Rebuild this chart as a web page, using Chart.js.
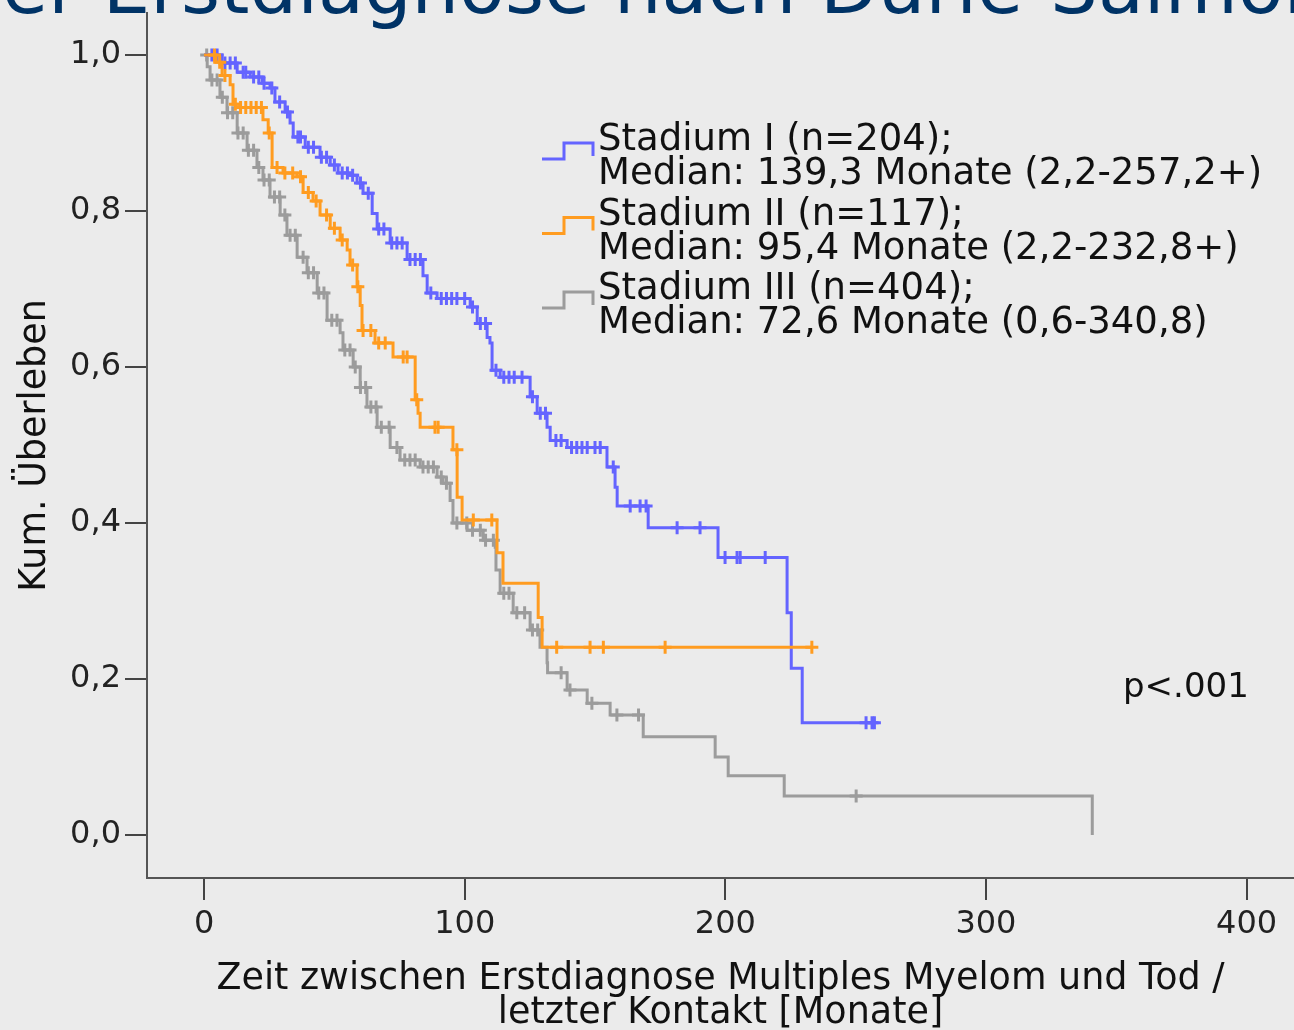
<!DOCTYPE html>
<html>
<head>
<meta charset="utf-8">
<script src="https://cdn.jsdelivr.net/npm/chart.js@4.4.1/dist/chart.umd.min.js"></script>
<style>
  html, body { margin: 0; padding: 0; background: #ebebeb; overflow: hidden; }
  canvas { display: block; }
</style>
</head>
<body>
<canvas id="km" width="1294" height="1030"></canvas>
<script>
// Kaplan-Meier steps: [months, cumulative survival]
const stadium1 = [
  [0, 1.0], [6.9, 0.990], [12.7, 0.978], [17.7, 0.972], [22.3, 0.964], [25.3, 0.958],
  [27.2, 0.940], [31.1, 0.927], [33.0, 0.913], [34.2, 0.895], [38.8, 0.882], [44.5, 0.869],
  [48.4, 0.859], [51.4, 0.849], [56.0, 0.846], [58.7, 0.836], [61.0, 0.823], [64.5, 0.797],
  [66.4, 0.777], [71.4, 0.759], [77.9, 0.738], [84.0, 0.717], [85.6, 0.695], [89.4, 0.688],
  [102.1, 0.677], [104.8, 0.656], [108.6, 0.638], [109.7, 0.631], [110.5, 0.596], [113.6, 0.587],
  [125.1, 0.562], [127.8, 0.541], [131.6, 0.523], [132.8, 0.506], [139.3, 0.497], [154.6, 0.472],
  [157.7, 0.446], [158.5, 0.422], [170.4, 0.394], [197.2, 0.356], [223.7, 0.285], [225.3, 0.214],
  [229.5, 0.144], [257.2, 0.144]
];
const stadium2 = [
  [0, 1.0], [4.6, 0.991], [6.9, 0.974], [10.0, 0.962], [11.1, 0.937], [13.8, 0.933],
  [22.6, 0.917], [24.6, 0.900], [26.1, 0.856], [30.3, 0.849], [35.7, 0.844], [38.0, 0.824],
  [41.8, 0.813], [44.5, 0.795], [48.4, 0.778], [52.2, 0.763], [54.9, 0.750], [56.0, 0.731],
  [58.7, 0.703], [59.9, 0.679], [60.6, 0.647], [65.6, 0.631], [72.5, 0.613], [81.0, 0.558],
  [82.1, 0.541], [82.9, 0.523], [95.5, 0.494], [97.1, 0.433], [99.0, 0.404], [112.4, 0.362],
  [114.7, 0.323], [128.2, 0.279], [129.7, 0.241], [233.2, 0.241]
];
const stadium3 = [
  [0, 1.0], [1.2, 0.985], [2.3, 0.968], [6.1, 0.946], [8.8, 0.926], [12.7, 0.900],
  [16.5, 0.878], [20.3, 0.856], [22.6, 0.840], [25.3, 0.818], [29.2, 0.795], [31.8, 0.769],
  [35.7, 0.741], [39.5, 0.721], [43.4, 0.695], [47.2, 0.660], [52.2, 0.644], [53.3, 0.622],
  [57.2, 0.600], [59.9, 0.574], [62.5, 0.549], [66.4, 0.523], [71.4, 0.497], [75.2, 0.481],
  [82.9, 0.472], [89.4, 0.459], [91.7, 0.451], [94.4, 0.429], [95.5, 0.400], [100.9, 0.391],
  [107.1, 0.378], [111.7, 0.369], [112.0, 0.340], [113.6, 0.310], [118.6, 0.285], [125.1, 0.263],
  [128.9, 0.241], [131.6, 0.221], [131.8, 0.208], [139.3, 0.186], [147.0, 0.169], [155.8, 0.154],
  [168.5, 0.126], [196.1, 0.100], [201.1, 0.076], [222.6, 0.050], [340.8, 0.0]
];

// censored cases (months), marked with + on their curve
const censor1 = [3, 5, 8, 10, 12, 15, 16, 19, 21, 23, 26, 29, 32, 36, 37, 40, 42, 45, 47, 50,
  53, 55, 57, 60, 63, 67, 69, 72, 74, 76, 79, 81, 83, 87, 91, 93, 95, 97, 100, 103, 106, 108,
  112, 115, 117, 119, 122, 126, 129, 131, 135, 137, 141, 143, 145, 147, 150, 152, 157,
  163.5, 167.3, 169.6, 181.5, 190.3, 199.9, 204.5, 205.7, 215.3, 254, 256.3, 257.2];
const censor2 = [4, 6, 8, 12, 14, 16, 18, 20, 22, 25, 28, 31, 34, 37, 40, 43, 47, 50, 53, 57,
  59, 61, 64, 67, 69.5, 76.4, 77.9, 81.6, 88.6, 89.8, 97, 103.3, 110.4, 135.3, 148.1, 153.2,
  176.9, 233.2];
const censor3 = [1, 3, 5, 7, 9, 11, 13, 15, 17, 19, 21, 23, 25, 27, 29, 31, 33, 35, 38, 40, 42,
  44, 46, 49, 51, 54, 56, 58, 60, 62, 64, 66, 68, 71, 74, 77, 79, 81, 84, 86, 88, 91, 93, 97,
  100.8, 103, 106, 108, 111, 115, 117, 120, 123, 126, 128, 137, 140.4, 148.8, 158.4, 166.7, 250.2];

const seriesNames = ['Stadium I (n=204);', 'Stadium II (n=117);', 'Stadium III (n=404);'];
const seriesMedians = [
  'Median: 139,3 Monate (2,2-257,2+)',
  'Median: 95,4 Monate (2,2-232,8+)',
  'Median: 72,6 Monate (0,6-340,8)'
];
const seriesColors = ['#6464ff', '#ff9c20', '#9c9c9c'];

const xTicks = [0, 100, 200, 300, 400];
const xTickLabels = ['0', '100', '200', '300', '400'];
const yTicks = [0, 0.2, 0.4, 0.6, 0.8, 1.0];
const yTickLabels = ['0,0', '0,2', '0,4', '0,6', '0,8', '1,0'];
const xTitle = ['Zeit zwischen Erstdiagnose Multiples Myelom und Tod /', 'letzter Kontakt [Monate]'];
const yTitle = 'Kum. Überleben';
const pValue = 'p<.001';
const headline = 'der Erstdiagnose nach Durie-Salmon';

// survival value of a curve at time t (for placing censor marks)
function survivalAt(curve, t) {
  let s = curve[0][1];
  for (const [x, y] of curve) {
    if (x <= t) s = y; else break;
  }
  return s;
}

const curves = [stadium1, stadium2, stadium3];
const censors = [censor1, censor2, censor3];
const drawOrder = [1, 0, 2]; // orange on top, gray at the bottom

const datasets = [];
curves.forEach((curve, i) => {
  datasets.push({
    label: seriesNames[i],
    data: curve.map(([x, y]) => ({x, y})),
    stepped: 'before',
    borderColor: seriesColors[i],
    borderWidth: 3,
    pointRadius: 0,
    fill: false,
    order: drawOrder[i] * 2 + 1
  });
  datasets.push({
    label: seriesNames[i] + ' zensiert',
    data: censors[i].map(t => ({x: t, y: survivalAt(curve, t)})),
    showLine: false,
    pointStyle: 'cross',
    pointRadius: 6.5,
    pointBorderWidth: 3,
    pointBorderColor: seriesColors[i],
    order: drawOrder[i] * 2
  });
});

// headline, legend and p value
const extras = {
  id: 'extras',
  afterDraw(chart) {
    const ctx = chart.ctx;
    ctx.save();

    ctx.font = '75px "DejaVu Sans"';
    ctx.fillStyle = '#003366';
    ctx.textBaseline = 'alphabetic';
    ctx.textAlign = 'left';
    const lead = ctx.measureText('d').width;
    ctx.fillText(headline, 2 - lead, 13);

    ctx.font = '37px "DejaVu Sans"';
    ctx.fillStyle = '#111111';
    seriesNames.forEach((name, i) => {
      const base = 150 + i * 74.5;
      ctx.strokeStyle = seriesColors[i];
      ctx.lineWidth = 3;
      ctx.beginPath();
      ctx.moveTo(542, base + 9);
      ctx.lineTo(564, base + 9);
      ctx.lineTo(564, base - 7);
      ctx.lineTo(593, base - 7);
      ctx.lineTo(593, base + 6);
      ctx.stroke();
      ctx.fillText(name, 598, base);
      ctx.fillText(seriesMedians[i], 598, base + 34);
    });

    ctx.font = '34px "DejaVu Sans"';
    ctx.fillText(pValue, 1123, 697);
    ctx.restore();
  }
};

new Chart(document.getElementById('km'), {
  type: 'line',
  data: { datasets: datasets },
  options: {
    responsive: false,
    animation: false,
    devicePixelRatio: 1,
    layout: { autoPadding: false, padding: { top: 13, right: 0, bottom: 0, left: 0 } },
    plugins: {
      legend: { display: false },
      tooltip: { enabled: false }
    },
    scales: {
      x: {
        type: 'linear',
        min: -21.9,
        max: 418.2,
        afterBuildTicks: scale => { scale.ticks = xTicks.map(v => ({value: v})); },
        afterFit: scale => {
          scale.height = 152;
          scale.paddingLeft = 0;
          scale.paddingRight = 0;
        },
        grid: { drawOnChartArea: false, drawTicks: true, tickLength: 22, tickColor: '#444', lineWidth: 2 },
        border: { display: true, color: '#555', width: 2 },
        ticks: {
          padding: 5,
          color: '#222',
          font: { family: 'DejaVu Sans', size: 32 },
          maxRotation: 0,
          callback: (v, i) => xTickLabels[i]
        },
        title: {
          display: true,
          text: xTitle,
          color: '#111',
          font: { family: 'DejaVu Sans', size: 36.5, lineHeight: 0.93 },
          padding: { top: 0, bottom: 0 }
        }
      },
      y: {
        type: 'linear',
        min: -0.055,
        max: 1.054,
        afterBuildTicks: scale => { scale.ticks = yTicks.map(v => ({value: v})); },
        afterFit: scale => {
          scale.width = 147;
          scale.paddingTop = 0;
          scale.paddingBottom = 0;
        },
        grid: { drawOnChartArea: false, drawTicks: true, tickLength: 22, tickColor: '#444', lineWidth: 2 },
        border: { display: true, color: '#555', width: 2 },
        ticks: {
          padding: 4,
          color: '#222',
          font: { family: 'DejaVu Sans', size: 32 },
          callback: (v, i) => yTickLabels[i]
        },
        title: {
          display: true,
          text: yTitle,
          color: '#111',
          font: { family: 'DejaVu Sans', size: 36.5, lineHeight: 0.93 },
          padding: { top: 19, bottom: 0 }
        }
      }
    }
  },
  plugins: [extras]
});
</script>
</body>
</html>
